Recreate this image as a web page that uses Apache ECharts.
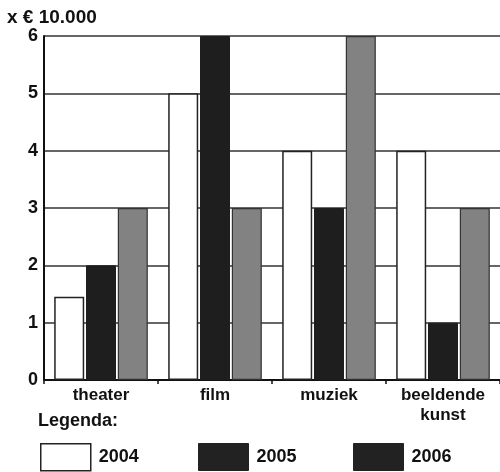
<!DOCTYPE html>
<html>
<head>
<meta charset="utf-8">
<script src="https://cdn.jsdelivr.net/npm/echarts@6/dist/echarts.min.js"></script>
<style>html,body{margin:0;padding:0;background:#fff}#c{width:500px;height:472px}</style>
</head>
<body>
<div id="c"></div>
<script>
var categories = ['theater', 'film', 'muziek', 'beeldende\nkunst'];
var years = ['2004', '2005', '2006'];
var v2004 = [1.45, 5, 4, 4];
var v2005 = [2, 6, 3, 1];
var v2006 = [3, 3, 6, 3];
var yTicks = [0, 1, 2, 3, 4, 5, 6];
var unitLabel = 'x € 10.000';
var legendTitle = 'Legenda:';

var FONT = '"Liberation Sans", Arial, sans-serif';
var chart = echarts.init(document.getElementById('c'), null, {renderer: 'canvas'});
var styles = [
  {color: '#ffffff', borderColor: '#222', borderWidth: 1.5},
  {color: '#1e1e1e', borderColor: '#1e1e1e', borderWidth: 1},
  {color: '#828282', borderColor: '#333', borderWidth: 1.2}
];
var legendIconStyles = [
  {color: '#ffffff', borderColor: '#222', borderWidth: 1.5},
  {color: '#222222', borderColor: '#222', borderWidth: 1},
  {color: '#222222', borderColor: '#222', borderWidth: 1}
];
var values = [v2004, v2005, v2006];
var legendLeft = [40, 198, 353];

chart.setOption({
  animation: false,
  textStyle: {fontFamily: FONT},
  graphic: [
    {type: 'text', left: 7, top: 8, style: {text: unitLabel, font: 'bold 19px ' + FONT, fill: '#111'}},
    {type: 'text', left: 38, top: 412, style: {text: legendTitle, font: 'bold 18px ' + FONT, fill: '#111'}}
  ],
  legend: years.map(function (y, i) {
    return {
      data: [{name: y, itemStyle: legendIconStyles[i]}],
      left: legendLeft[i], top: 443, padding: 0,
      itemWidth: 50, itemHeight: 27, itemGap: 8,
      icon: 'rect',
      selectedMode: false,
      textStyle: {fontSize: 18, fontWeight: 'bold', color: '#111', fontFamily: FONT, padding: [0, 0, 0, 3]}
    };
  }),
  grid: {left: 44, right: -2, top: 36, bottom: 92},
  xAxis: {
    type: 'category',
    data: categories,
    axisLine: {lineStyle: {color: '#111', width: 2}},
    axisTick: {show: true, length: 4, lineStyle: {color: '#111', width: 1.5}},
    axisLabel: {fontSize: 17, fontWeight: 'bold', color: '#111', margin: 5, lineHeight: 20, interval: 0, fontFamily: FONT}
  },
  yAxis: {
    type: 'value',
    min: 0, max: 6, interval: 1,
    axisLine: {show: true, lineStyle: {color: '#111', width: 2}},
    axisTick: {show: false},
    axisLabel: {fontSize: 18, fontWeight: 'bold', color: '#111', margin: 6, fontFamily: FONT,
      formatter: function (v) { return yTicks.indexOf(v) >= 0 ? String(v) : ''; }},
    splitLine: {lineStyle: {color: '#333', width: 1.5}}
  },
  series: years.map(function (y, i) {
    return {
      name: y, type: 'bar', data: values[i],
      barWidth: 30, barGap: '6%',
      itemStyle: styles[i]
    };
  })
});
</script>
</body>
</html>
